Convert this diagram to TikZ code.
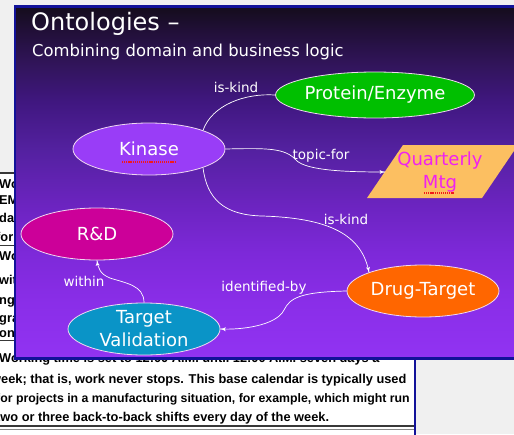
\documentclass[tikz,border=0pt]{standalone}
\usepackage{fontspec}
\usepackage{tikz}
\usetikzlibrary{arrows}
\usetikzlibrary{decorations.markings}
\usetikzlibrary{shapes.geometric}
\setmainfont{DejaVu Sans}
\newfontfamily\docfont{Liberation Sans}
\definecolor{mpaper}{rgb}{0.94, 0.94, 0.94}
\definecolor{mframe}{rgb}{0.07, 0.07, 0.6}
\definecolor{mrule}{rgb}{0.22, 0.22, 0.22}
\definecolor{mtop}{rgb}{0.08, 0.05, 0.11}
\definecolor{ms1}{rgb}{0.13, 0.06, 0.22}
\definecolor{ms2}{rgb}{0.19, 0.08, 0.35}
\definecolor{ms3}{rgb}{0.25, 0.09, 0.5}
\definecolor{ms4}{rgb}{0.33, 0.13, 0.63}
\definecolor{ms5}{rgb}{0.42, 0.14, 0.75}
\definecolor{ms6}{rgb}{0.49, 0.16, 0.85}
\definecolor{ms7}{rgb}{0.54, 0.18, 0.91}
\definecolor{mbot}{rgb}{0.57, 0.2, 0.95}
\definecolor{mgreen}{rgb}{0, 0.75, 0}
\definecolor{mkin}{rgb}{0.6, 0.24, 0.97}
\definecolor{mrd}{rgb}{0.8, 0, 0.6}
\definecolor{mteal}{rgb}{0.04, 0.58, 0.78}
\definecolor{morange}{rgb}{1, 0.4, 0}
\definecolor{mgold}{rgb}{0.99, 0.75, 0.38}
\definecolor{mpink}{rgb}{0.94, 0.13, 0.94}
\definecolor{mrim}{rgb}{0.94, 0.85, 0.94}
\definecolor{mspell}{rgb}{0.95, 0.1, 0.1}
\pgfdeclareverticalshading{slidebg}{100bp}{color(0bp)=(mbot); color(25bp)=(mbot);
    color(33bp)=(ms7); color(40bp)=(ms6); color(47bp)=(ms5); color(54.5bp)=(ms4);
    color(61.5bp)=(ms3); color(67bp)=(ms2); color(71.5bp)=(ms1); color(75bp)=(mtop);
    color(100bp)=(mtop)}
\tikzset{->/.style = {decoration={markings,
                                  mark=at position 1 with {\arrow[scale=1.1]{latex'}}},
                      postaction={decorate}}}
\tikzset{concept/.style = {ellipse, draw=mrim, line width=0.8pt, inner sep=0pt,
                           minimum width=152pt, minimum height=52pt, text=white,
                           align=center, font=\fontsize{18}{23}\selectfont}}
\tikzset{rel/.style = {anchor=base, inner sep=0pt, text=white,
                       font=\fontsize{13.5}{15}\selectfont}}
\tikzset{link/.style = {white, line width=0.7pt}}
\tikzset{spell/.style = {mspell, line width=1.2pt, dash pattern=on 1.2pt off 0.9pt}}
\tikzset{docline/.style = {anchor=base west, inner sep=0pt,
                           font=\docfont\bfseries\fontsize{12.8}{15}\selectfont}}

\begin{document}
\begin{tikzpicture}[x=1pt, y=-1pt]
    \useasboundingbox (0,0) rectangle (514,434);
    \clip (0,0) rectangle (514,434);
    \fill [mpaper] (0,0) rectangle (514,434);

    \fill [white] (-5,173) rectangle (415,440);
    \draw [mrule, line width=1.2pt] (-5,173) -- (415,173);
    \draw [mrule, line width=1pt] (-5,245) -- (415,245);
    \draw [mrule, line width=1pt] (-5,340) -- (415,340);
    \draw [mrule, line width=1.2pt] (-5,426) -- (415,426);
    \draw [mrule!60, line width=0.8pt] (-5,429) -- (415,429);

    \begin{scope}
        \clip (-5,173) rectangle (414,434);
        \node [docline] (f1) at (-1,188) {Wo};
        \node [docline] (f2) at (-1,204) {EM};
        \node [docline] (f3) at (-1,222) {day};
        \node [docline] (f4) at (-4,241) {for};
        \node [docline] (f5) at (-1,260) {Wo};
        \node [docline] (f6) at (-1,284) {wit};
        \node [docline] (f7) at (-1,304) {ng(};
        \node [docline] (f8) at (-1,322) {gra};
        \node [docline] (f9) at (-1,337) {onl};

        \node [docline] (d1) at (-1,362) {Working time is set to 12:00 A.M. until 12:00 A.M. seven days a};
        \node [docline] (d2) at (-9,383) {week; that is, work never stops. This base calendar is typically used};
        \node [docline, font=\docfont\bfseries\fontsize{12.3}{15}\selectfont] (d3) at (-4,402) {for projects in a manufacturing situation, for example, which might run};
        \node [docline] (d4) at (-4,421) {two or three back-to-back shifts every day of the week.};
    \end{scope}
    \draw [mframe, line width=2pt] (415,173) -- (415,440);

    \shadedraw [shading=slidebg, draw=mframe, line width=2.5pt] (15,6.5) rectangle (530,358.5);

    \node [anchor=base west, inner sep=0pt, text=white, font=\fontsize{24}{28}\selectfont] (title) at (31,30) {Ontologies –};
    \node [anchor=base west, inner sep=0pt, text=white, font=\fontsize{16.4}{19}\selectfont] (sub) at (32,56) {Combining domain and business logic};

    \fill [mgold] (367,198) -- (403,145) -- (518,145) -- (482,198) -- cycle;
    \node [inner sep=0pt, align=center, text=mpink, font=\fontsize{18}{23}\selectfont] (qmtg) at (440,172) {Quarterly\\Mtg};
    \coordinate (qin) at (385,172);

    \node [concept, fill=mgreen, minimum width=154pt, minimum height=46pt] (prot) at (375,95) {Protein/Enzyme};
    \node [concept, fill=mkin] (kin) at (149,149) {Kinase};
    \node [concept, fill=mrd] (rd) at (97,234) {R\&D};
    \node [concept, fill=mteal] (tv) at (144,329) {Target\\Validation};
    \node [concept, fill=morange] (dt) at (423,291) {Drug-Target};

    \draw [spell] ([xshift=-27pt, yshift=-13pt]kin.center) -- ([xshift=27pt, yshift=-13pt]kin.center);
    \draw [spell] ([xshift=-16pt, yshift=-21pt]qmtg.center) -- ([xshift=14pt, yshift=-21pt]qmtg.center);

    \draw [->, link] (kin.north east) .. controls (212,105) and (245,93) .. (prot.west);
    \draw [->, link] (kin.east) .. controls (268,148) and (285,148) .. (296,160) .. controls (306,171) and (350,172) .. (qin);
    \draw [->, link] (kin.south east) .. controls (207,200) and (225,215) .. (262,216) .. controls (330,218) and (362,235) .. (dt.north west);
    \draw [->, link] (dt.west) .. controls (300,292) and (290,298) .. (284,310) .. controls (276,326) and (240,330) .. (tv.east);
    \draw [->, link] (tv.north) .. controls (144,285) and (125,283) .. (110,278) .. controls (100,274) and (98,268) .. (rd.south);

    \node [rel] (r1) at (236,92) {is-kind};
    \node [rel] (r2) at (321,159) {topic-for};
    \node [rel] (r3) at (346,224) {is-kind};
    \node [rel] (r4) at (264,291) {identified-by};
    \node [rel] (r5) at (84,286) {within};
\end{tikzpicture}
\end{document}
